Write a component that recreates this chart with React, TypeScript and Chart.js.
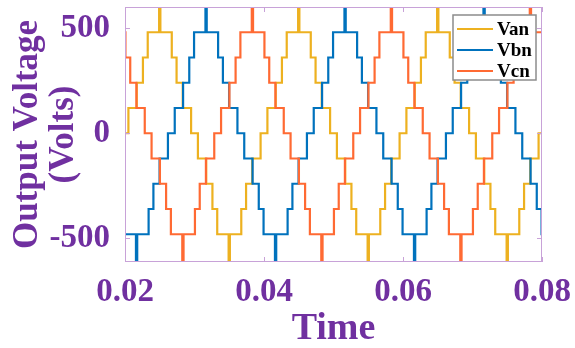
import React, { useEffect, useRef } from "react";
import { Chart, registerables } from "chart.js";

Chart.register(...registerables);

// ---- data ----
const seriesNames = ["Van", "Vbn", "Vcn"];
const seriesColors = ["#EDB120", "#0072BD", "#FF6A33"];
// each phase is the same measured staircase, delayed by 120 degrees (ms)
const phaseDelaysMs = [0, 6.667, 13.333];
// starts of the measured cycle (rising zero crossing of Van), in ms
const cycleStartsMs = [-20, 0, 20, 40, 60, 80];
// one measured cycle: switching instants (ms from cycle start) and the level after each
const stepTimesMs = [0.49, 1.69, 2.58, 3.27, 6.73, 7.42, 8.31, 9.51, 10.49, 11.69, 12.58, 13.27, 16.73, 17.42, 18.31, 19.51];
const stepLevels = [120, 240, 360, 480, 360, 240, 120, 0, -120, -240, -360, -480, -360, -240, -120, 0];
// short spikes at the crest and the trough of each cycle
const spikeTimesMs = [5, 15];
const spikeLevels = [760, -760];
const spikeHalfWidthMs = 0.09;

const xRange = [0.02, 0.08];
const yRange = [-612, 600];
const xTicks = [0.02, 0.04, 0.06, 0.08];
const xTickLabels = ["0.02", "0.04", "0.06", "0.08"];
const yTicks = [-500, 0, 500];
const yTickLabels = ["-500", "0", "500"];

const PURPLE = "#7030A0";
const FRAME = "#C8A2D8";
const SERIF = "'Liberation Serif', 'Times New Roman', serif";

type Pt = { x: number; y: number };

function buildSeries(delayMs: number): Pt[] {
  const events: { t: number; spike: boolean; v: number }[] = [];
  for (const c of cycleStartsMs) {
    const base = c + delayMs;
    stepTimesMs.forEach((t, i) => events.push({ t: base + t, spike: false, v: stepLevels[i] }));
    spikeTimesMs.forEach((t, i) => events.push({ t: base + t, spike: true, v: spikeLevels[i] }));
  }
  events.sort((a, b) => a.t - b.t);
  let level = 0;
  const pts: Pt[] = [{ x: (cycleStartsMs[0] + delayMs) / 1000, y: 0 }];
  for (const e of events) {
    if (!e.spike) {
      const x = e.t / 1000;
      pts.push({ x, y: level });
      pts.push({ x, y: e.v });
      level = e.v;
    } else {
      const a = (e.t - spikeHalfWidthMs) / 1000;
      const b = (e.t + spikeHalfWidthMs) / 1000;
      pts.push({ x: a, y: level }, { x: a, y: e.v }, { x: b, y: e.v }, { x: b, y: level });
    }
  }
  return pts;
}

const framePlugin = {
  id: "frameAndLegend",
  afterDatasetsDraw(chart: any) {
    const { ctx, chartArea: a, scales } = chart;
    ctx.save();
    ctx.strokeStyle = FRAME;
    ctx.lineWidth = 1;
    ctx.strokeRect(a.left + 0.5, a.top + 0.5, a.right - a.left - 1, a.bottom - a.top - 1);
    ctx.beginPath();
    const tl = 5;
    for (const v of xTicks) {
      const px = Math.round(scales.x.getPixelForValue(v)) + 0.5;
      ctx.moveTo(px, a.bottom);
      ctx.lineTo(px, a.bottom - tl);
      ctx.moveTo(px, a.top);
      ctx.lineTo(px, a.top + tl);
    }
    for (const v of yTicks) {
      const py = Math.round(scales.y.getPixelForValue(v)) + 0.5;
      ctx.moveTo(a.left, py);
      ctx.lineTo(a.left + tl, py);
      ctx.moveTo(a.right, py);
      ctx.lineTo(a.right - tl, py);
    }
    ctx.stroke();

    // legend box (inside plot, top-right)
    const bx = a.right - 89;
    const by = a.top + 8;
    const bw = 83;
    const bh = 65;
    ctx.fillStyle = "#ffffff";
    ctx.fillRect(bx, by, bw, bh);
    ctx.strokeStyle = "#8c8c8c";
    ctx.lineWidth = 1.5;
    ctx.strokeRect(bx, by, bw, bh);
    ctx.font = `bold 19px ${SERIF}`;
    ctx.textBaseline = "middle";
    ctx.textAlign = "left";
    chart.data.datasets.forEach((ds: any, i: number) => {
      const ry = by + 14 + i * 21;
      ctx.strokeStyle = ds.borderColor;
      ctx.lineWidth = 2;
      ctx.beginPath();
      ctx.moveTo(bx + 4, ry);
      ctx.lineTo(bx + 40, ry);
      ctx.stroke();
      ctx.fillStyle = "#000000";
      ctx.fillText(ds.label, bx + 44, ry + 1);
    });
    ctx.restore();
  },
};

export default function App() {
  const ref = useRef<HTMLCanvasElement>(null);
  useEffect(() => {
    if (!ref.current) return;
    const datasets = seriesNames.map((name, i) => ({
      label: name,
      data: buildSeries(phaseDelaysMs[i]),
      borderColor: seriesColors[i],
      backgroundColor: seriesColors[i],
      borderWidth: 2.2,
      pointRadius: 0,
      tension: 0,
      fill: false,
      clip: 0,
      order: seriesNames.length - i,
    }));
    const chart = new Chart(ref.current, {
      type: "line",
      data: { datasets },
      options: {
        animation: false,
        responsive: false,
        maintainAspectRatio: false,
        layout: { padding: { left: 0, right: 33, top: 7, bottom: 0 } },
        plugins: { legend: { display: false }, tooltip: { enabled: false } },
        scales: {
          x: {
            type: "linear",
            min: xRange[0],
            max: xRange[1],
            afterBuildTicks: (s: any) => {
              s.ticks = xTicks.map((v) => ({ value: v }));
            },
            afterFit: (s: any) => {
              s.height = 86;
              s.paddingLeft = 0;
              s.paddingRight = 0;
              s.paddingTop = 0;
              s.paddingBottom = 0;
            },
            grid: { display: false, drawTicks: false },
            border: { display: false },
            ticks: {
              autoSkip: false,
              maxRotation: 0,
              padding: 11,
              color: PURPLE,
              font: { family: SERIF, size: 33, weight: "bold" },
              callback: (v: any) => {
                const i = xTicks.findIndex((t) => Math.abs(t - Number(v)) < 1e-9);
                return i >= 0 ? xTickLabels[i] : "";
              },
            },
            title: {
              display: true,
              text: "Time",
              color: PURPLE,
              font: { family: SERIF, size: 38, weight: "bold", lineHeight: 1 },
              padding: { top: 0, bottom: 0 },
            },
          },
          y: {
            type: "linear",
            min: yRange[0],
            max: yRange[1],
            afterBuildTicks: (s: any) => {
              s.ticks = yTicks.map((v) => ({ value: v }));
            },
            afterFit: (s: any) => {
              s.width = 125;
              s.paddingLeft = 0;
              s.paddingRight = 0;
              s.paddingTop = 0;
              s.paddingBottom = 0;
            },
            grid: { display: false, drawTicks: false },
            border: { display: false },
            ticks: {
              autoSkip: false,
              padding: 15,
              color: PURPLE,
              font: { family: SERIF, size: 33, weight: "bold" },
              callback: (v: any) => {
                const i = yTicks.findIndex((t) => Math.abs(t - Number(v)) < 1e-9);
                return i >= 0 ? yTickLabels[i] : "";
              },
            },
            title: {
              display: true,
              text: ["Output Voltage", "(Volts)"],
              color: PURPLE,
              font: { family: SERIF, size: 35, weight: "bold", lineHeight: 1.03 },
              padding: { top: 10, bottom: 0 },
            },
          },
        },
      },
      plugins: [framePlugin],
    } as any);
    return () => chart.destroy();
  }, []);
  return (
    <div style={{ position: "fixed", left: 0, top: 0, width: 575, height: 348, background: "#ffffff" }}>
      <canvas ref={ref} width={575} height={348} style={{ display: "block", width: 575, height: 348 }} />
    </div>
  );
}
